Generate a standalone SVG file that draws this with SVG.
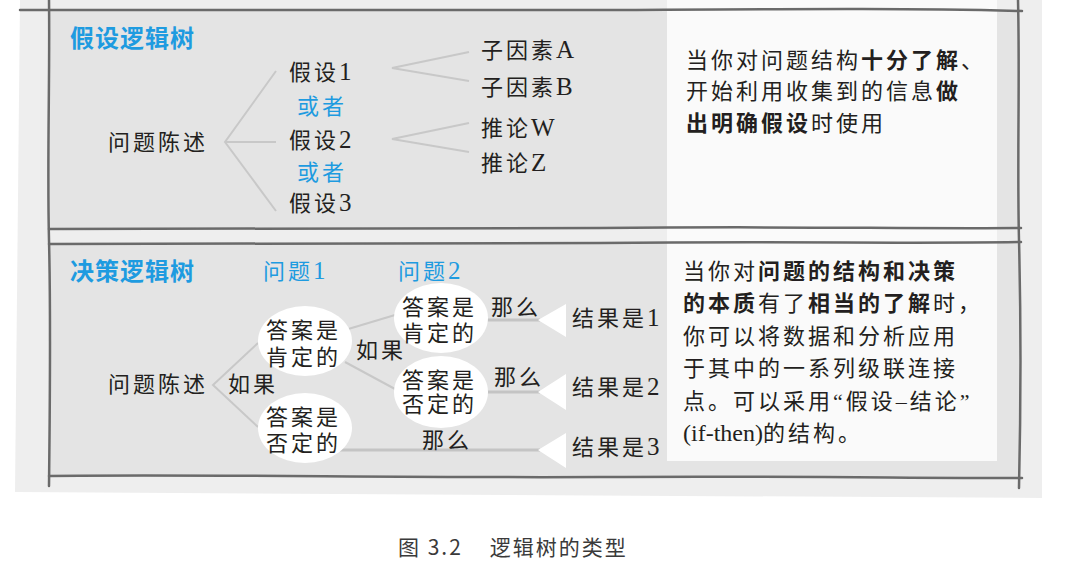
<svg xmlns="http://www.w3.org/2000/svg" width="1071" height="573" viewBox="0 0 1071 573">
<style>
.t{font-family:"Liberation Serif","Noto Sans CJK SC",serif;font-size:22px;fill:#231f20;letter-spacing:3px}
.b{fill:#1e9be0}
.L{font-size:25px;letter-spacing:0}
.h{font-family:"Noto Sans CJK SC",sans-serif;font-size:24px;font-weight:bold;fill:#1e9be0;letter-spacing:1px}
.p{font-family:"Liberation Serif","Noto Sans CJK SC",serif;font-size:22px;fill:#231f20;letter-spacing:3px}
.bd{font-weight:bold}
.ln{stroke:#c8c8c8;stroke-width:2;fill:none}
.ln3{stroke:#c4c4c4;stroke-width:3;fill:none}
.fr{stroke:#6a6a6a;stroke-width:2.5;fill:none;stroke-linecap:round}
.bub{fill:#ffffff}
.tri{fill:#ffffff}
</style>
<rect width="1071" height="573" fill="#ffffff"/>
<polygon points="20,0 1042,0 1042,498 15,492" fill="#eeeeee"/>
<rect x="49" y="10" width="970" height="218" fill="#e4e4e4"/>
<rect x="49" y="243" width="970" height="234" fill="#e4e4e4"/>
<rect x="667" y="0" width="330" height="461" fill="#fafafa"/>
<g id="frame">
<path class="fr" d="M20,10 C200,9 400,11 600,10 S900,8 1022,11"/>
<path class="fr" d="M49,0 C50,80 47,160 49,240 S50,400 49,486"/>
<path class="fr" d="M1018,0 C1020,80 1017,160 1019,240 S1021,400 1019,488"/>
<path class="fr" d="M49,229 C200,227 400,230 600,228 S900,229 1021,228"/>
<path class="fr" d="M49,244 C200,242 400,245 600,243 S900,244 1021,242"/>
<path class="fr" d="M49,476 C200,474 400,478 600,477 S900,478 1022,478"/>
</g>
<g id="connectors">
<polyline class="ln" points="276,71 225,142 276,211"/>
<line class="ln" x1="225" y1="142" x2="276" y2="142"/>
<polyline class="ln" points="469,52 392,68 469,81"/>
<polyline class="ln" points="469,123 392,139 469,152"/>
<polyline class="ln" points="258,343 213,385 258,427"/>
<line class="ln" x1="345" y1="330" x2="395" y2="315"/>
<line class="ln" x1="345" y1="362" x2="395" y2="389"/>
<line class="ln3" x1="487" y1="320" x2="540" y2="320"/>
<line class="ln3" x1="487" y1="392" x2="540" y2="392"/>
<line class="ln3" x1="340" y1="450" x2="540" y2="450"/>
<polygon class="tri" points="538,320 566,304 566,337"/>
<polygon class="tri" points="538,392 566,374 566,410"/>
<polygon class="tri" points="538,450 566,433 566,468"/>
</g>
<g id="hypothesis-tree">
<text class="h" x="70" y="47">假设逻辑树</text>
<text class="t" x="108" y="150">问题陈述</text>
<text class="t" x="289" y="80" letter-spacing="2">假设<tspan class="L">1</tspan></text>
<text class="t b" x="297" y="114">或者</text>
<text class="t" x="289" y="148" letter-spacing="2">假设<tspan class="L">2</tspan></text>
<text class="t b" x="297" y="180">或者</text>
<text class="t" x="289" y="211" letter-spacing="2">假设<tspan class="L">3</tspan></text>
<text class="t" x="481" y="58" letter-spacing="5">子因素<tspan class="L">A</tspan></text>
<text class="t" x="481" y="95" letter-spacing="5">子因素<tspan class="L">B</tspan></text>
<text class="t" x="481" y="136" letter-spacing="4">推论<tspan class="L">W</tspan></text>
<text class="t" x="481" y="171" letter-spacing="4">推论<tspan class="L">Z</tspan></text>
</g>
<g id="hypothesis-note">
<text class="p" x="686" y="68" letter-spacing="2.8">当你对问题结构<tspan class="bd">十分了解</tspan>、</text>
<text class="p" x="686" y="99" letter-spacing="3">开始利用收集到的信息<tspan class="bd">做</tspan></text>
<text class="p" x="686" y="131" letter-spacing="3"><tspan class="bd">出明确假设</tspan>时使用</text>
</g>
<g id="decision-tree">
<text class="h" x="70" y="280">决策逻辑树</text>
<text class="t b" x="263" y="279">问题<tspan class="L">1</tspan></text>
<text class="t b" x="398" y="279">问题<tspan class="L">2</tspan></text>
<text class="t" x="108" y="392">问题陈述</text>
<text class="t" x="228" y="392">如果</text>
<g id="q1-yes"><ellipse class="bub" cx="305" cy="341" rx="47" ry="35"/>
<text class="t" x="266" y="338">答案是</text><text class="t" x="266" y="365">肯定的</text></g>
<g id="q1-no"><ellipse class="bub" cx="305" cy="428" rx="47" ry="35"/>
<text class="t" x="266" y="425">答案是</text><text class="t" x="266" y="451">否定的</text></g>
<text class="t" x="356" y="358">如果</text>
<g id="q2-yes"><ellipse class="bub" cx="441" cy="318" rx="47" ry="35"/>
<text class="t" x="402" y="315">答案是</text><text class="t" x="402" y="341">肯定的</text></g>
<g id="q2-no"><ellipse class="bub" cx="441" cy="392" rx="47" ry="36"/>
<text class="t" x="402" y="388">答案是</text><text class="t" x="402" y="412">否定的</text></g>
<text class="t" x="491" y="315">那么</text>
<text class="t" x="494" y="385">那么</text>
<text class="t" x="422" y="448">那么</text>
<text class="t" x="572" y="326">结果是<tspan class="L">1</tspan></text>
<text class="t" x="572" y="395">结果是<tspan class="L">2</tspan></text>
<text class="t" x="572" y="455">结果是<tspan class="L">3</tspan></text>
</g>
<g id="decision-note">
<text class="p" x="683" y="279" letter-spacing="3.6"><tspan>当你对</tspan><tspan class="bd">问题的结构和决策</tspan></text>
<text class="p" x="683" y="311" letter-spacing="3.3"><tspan class="bd">的本质</tspan>有了<tspan class="bd">相当的了解</tspan>时，</text>
<text class="p" x="683" y="344" letter-spacing="4">你可以将数据和分析应用</text>
<text class="p" x="683" y="376" letter-spacing="4">于其中的一系列级联连接</text>
<text class="p" x="683" y="409" letter-spacing="3">点。可以采用“假设–结论”</text>
<text class="p" x="683" y="441" letter-spacing="3"><tspan font-size="24" letter-spacing="0">(if-then)</tspan>的结构。</text>
</g>
<text x="398" y="555" font-family="'Noto Sans CJK SC',sans-serif" font-size="21" fill="#3a3a3a" letter-spacing="2" xml:space="preserve">图 3.2    逻辑树的类型</text>
</svg>
